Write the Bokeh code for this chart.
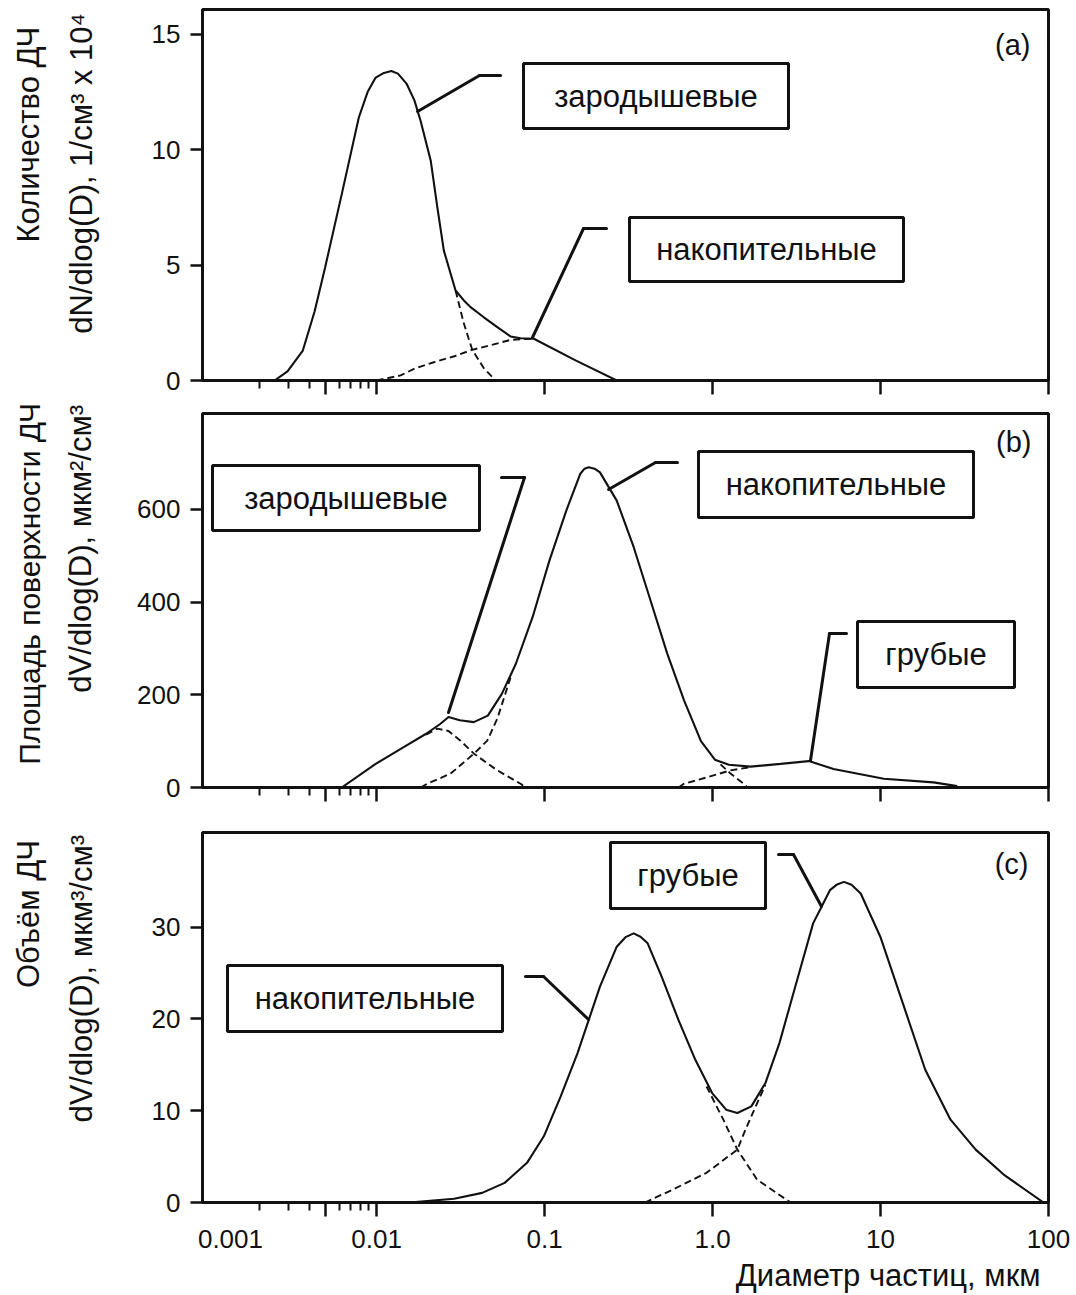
from bokeh.plotting import figure
from bokeh.layouts import column
from bokeh.models import (Range1d, FixedTicker, CustomJSTickFormatter, Label,
                          BoxAnnotation, Arrow, LinearAxis, LogAxis)
from bokeh.embed import file_html
from bokeh.resources import INLINE

# ---------------- data: particle diameter D (мкм) and size distributions ----------------
# (a) number distribution dN/dlog(D), 1/см³ x 10⁴
a_total_d = [0.00247, 0.00295, 0.00364, 0.00428, 0.00494, 0.00622, 0.00784, 0.00884,
             0.00988, 0.01106, 0.01225, 0.0134, 0.01507, 0.0168, 0.01826, 0.0210,
             0.02301, 0.02515, 0.02953, 0.03308, 0.03627, 0.04352, 0.05231, 0.06274,
             0.0720, 0.08636, 0.153, 0.269]
a_total_n = [0, 0.4, 1.3, 3.0, 4.9, 8.11, 11.4, 12.5, 13.13, 13.33, 13.41, 13.3, 12.87,
             12.14, 11.27, 9.54, 7.5, 5.63, 3.9, 3.47, 3.18, 2.74, 2.31, 1.91, 1.83,
             1.81, 0.87, 0]
a_nucl_d = [0.02953, 0.0330, 0.03712, 0.04334, 0.0511]
a_nucl_n = [3.9, 2.5, 1.33, 0.55, 0]
a_accu_d = [0.0100, 0.0139, 0.0169, 0.0219, 0.029, 0.0371, 0.046, 0.0557, 0.0627, 0.0720, 0.0864]
a_accu_n = [0, 0.22, 0.52, 0.79, 1.05, 1.33, 1.50, 1.66, 1.76, 1.79, 1.81]

# (b) surface distribution, мкм²/см³
b_total_d = [0.0062, 0.00988, 0.0145, 0.01973, 0.02391, 0.02683, 0.03128, 0.03791,
             0.04597, 0.05569, 0.06748, 0.08495, 0.1070, 0.1349, 0.1633, 0.1730, 0.1833,
             0.1984, 0.2137, 0.2690, 0.3391, 0.4270, 0.5376, 0.6768, 0.8532, 1.033,
             1.252, 1.683, 2.540, 3.743, 5.251, 10.46, 20.68, 28.61]
b_total_s = [0, 51, 87, 116, 137, 152, 145, 141, 155, 202, 267, 368, 490, 598, 677, 688,
             691, 688, 680, 619, 519, 404, 289, 188, 100, 60, 49, 45, 51, 57, 40, 19, 11, 3]
b_nucl_d = [0.0197, 0.0230, 0.0268, 0.0316, 0.0380, 0.0518, 0.0720, 0.0771]
b_nucl_s = [114, 127, 122, 101, 73, 38, 8, 0]
b_accu_d = [0.0183, 0.0200, 0.0276, 0.0380, 0.0456, 0.0525, 0.0627]
b_accu_s = [0, 8, 30, 73, 101, 150, 237]
b_accu_tail_d = [1.116, 1.28, 1.536, 1.615]
b_accu_tail_s = [50, 30, 8, 0]
b_coarse_d = [0.627, 0.675, 0.930, 1.28, 1.683]
b_coarse_s = [0, 8, 22, 37, 44]

# (c) volume distribution, мкм³/см³
c_total_d = [0.01565, 0.02897, 0.04251, 0.05788, 0.07865, 0.09904, 0.1248, 0.1572, 0.1833,
             0.2137, 0.2690, 0.3034, 0.3391, 0.3727, 0.4110, 0.4977, 0.6266, 0.7900,
             0.9945, 1.205, 1.405, 1.702, 2.064, 2.501, 3.149, 3.970, 4.998, 5.47, 6.055,
             6.72, 7.623, 9.973, 13.57, 18.46, 26.11, 36.87, 54.12, 93.4]
c_total_v = [0, 0.40, 1.05, 2.14, 4.32, 7.21, 11.55, 16.27, 19.89, 23.51, 27.86, 28.9,
             29.31, 28.95, 28.23, 24.60, 19.89, 15.54, 11.92, 10.11, 9.75, 10.47, 13.01,
             17.36, 23.88, 30.40, 34.02, 34.6, 34.92, 34.6, 33.66, 28.95, 21.71, 14.46,
             9.02, 5.76, 3.04, 0]
c_accu_tail_d = [0.921, 1.160, 1.405, 1.841, 2.912]
c_accu_tail_v = [12.64, 9.02, 5.76, 2.5, 0]
c_coarse_d = [0.3954, 0.5804, 0.921, 1.405, 1.576, 1.841, 2.064]
c_coarse_v = [0, 1.41, 3.23, 5.76, 8.0, 10.8, 12.8]

# axis ticks
x_major = [0.005, 0.01, 0.1, 1, 10, 100]
x_minor = [0.002, 0.003, 0.004, 0.006, 0.007, 0.008, 0.009]
x_label_ticks = [0.00135, 0.01, 0.1, 1, 10, 100]
a_yticks = [0, 5, 10, 15]
b_yticks = [0, 200, 400, 600]
c_yticks = [0, 10, 20, 30]

# ---------------- styling / layout ----------------
FONT = "Liberation Sans"
INK = "#111111"
PAGE_W = 1076
FRAME_L, FRAME_R = 202, 1048
X_MIN, X_MAX = 0.00092, 100
BOX_FONT = "31px"
TICK_FONT = "26px"
TITLE_FONT = "31px"
NBSP = "\u00a0"

BLANK = CustomJSTickFormatter(code='return "";')
X_LABELS = CustomJSTickFormatter(code="""
    if (tick < 0.002) { return "0.001"; }
    if (Math.abs(tick - 1) < 1e-9) { return "1.0"; }
    return tick.toString();
""")


def lead(text, n):
    """Axis titles are centred by Bokeh; leading non-breaking spaces slide them along."""
    return NBSP * n + text


def title_style(axis, text, standoff, size=TITLE_FONT):
    axis.axis_label = text
    axis.axis_label_standoff = standoff
    axis.axis_label_text_font = FONT
    axis.axis_label_text_font_size = size
    axis.axis_label_text_font_style = "normal"
    axis.axis_label_text_color = INK


def make_panel(height, top, bottom, ymax, yticks):
    p = figure(width=PAGE_W, height=height, x_axis_type="log",
               x_range=Range1d(X_MIN, X_MAX), y_range=Range1d(0, ymax),
               output_backend="svg", toolbar_location=None,
               min_border_left=FRAME_L, min_border_right=PAGE_W - FRAME_R,
               min_border_top=top, min_border_bottom=bottom)
    p.grid.visible = False
    p.background_fill_color = "white"
    p.border_fill_color = "white"
    p.outline_line_color = INK
    p.outline_line_width = 3

    xa = p.xaxis[0]
    xa.ticker = FixedTicker(ticks=x_major, minor_ticks=x_minor)
    xa.formatter = BLANK
    xa.major_label_standoff = 0
    xa.axis_line_width = 3
    xa.axis_line_color = INK
    xa.major_tick_in = 0
    xa.major_tick_out = 14
    xa.major_tick_line_width = 2.5
    xa.major_tick_line_color = INK
    xa.minor_tick_in = 0
    xa.minor_tick_out = 8
    xa.minor_tick_line_width = 2
    xa.minor_tick_line_color = INK

    ya = p.yaxis[0]
    ya.ticker = FixedTicker(ticks=yticks)
    ya.axis_line_width = 3
    ya.axis_line_color = INK
    ya.major_tick_in = 0
    ya.major_tick_out = 12
    ya.major_tick_line_width = 2.5
    ya.major_tick_line_color = INK
    ya.minor_tick_line_color = None
    ya.minor_tick_out = 0
    ya.major_label_text_font = FONT
    ya.major_label_text_font_size = TICK_FONT
    ya.major_label_text_color = INK
    ya.major_label_standoff = 10
    return p


def add_titles(p, inner, inner_standoff, outer, outer_standoff, outer_size=TITLE_FONT):
    title_style(p.yaxis[0], inner, inner_standoff)
    ax = LinearAxis(ticker=FixedTicker(ticks=[]), axis_line_color=None,
                    major_tick_in=0, major_tick_out=0, minor_tick_in=0, minor_tick_out=0,
                    major_label_standoff=0)
    title_style(ax, outer, outer_standoff, outer_size)
    p.add_layout(ax, "left")


def curve(p, xs, ys, dashed=False):
    if dashed:
        p.line(xs, ys, line_color=INK, line_width=1.9, line_dash="7 4")
    else:
        p.line(xs, ys, line_color=INK, line_width=2.1)


def text_at(p, fb, px, py, text, size, align="center", baseline="middle"):
    p.add_layout(Label(x=px - FRAME_L, y=fb - py, x_units="screen", y_units="screen",
                       text=text, text_align=align, text_baseline=baseline,
                       text_font=FONT, text_font_size=size, text_color=INK))


def boxed(p, fb, left, top, right, bottom, text):
    p.add_layout(BoxAnnotation(left=left - FRAME_L, right=right - FRAME_L,
                               top=fb - top, bottom=fb - bottom,
                               left_units="screen", right_units="screen",
                               top_units="screen", bottom_units="screen",
                               fill_color="white", fill_alpha=1.0,
                               line_color=INK, line_alpha=1.0, line_width=3))
    text_at(p, fb, (left + right) / 2, (top + bottom) / 2, text, BOX_FONT)


def leader(p, fb, pts):
    for (x0, y0), (x1, y1) in zip(pts[:-1], pts[1:]):
        p.add_layout(Arrow(end=None, x_start=x0 - FRAME_L, y_start=fb - y0,
                           x_end=x1 - FRAME_L, y_end=fb - y1,
                           start_units="screen", end_units="screen",
                           line_color=INK, line_width=3, line_cap="round"))


# ---------------- (a) number ----------------
FB_A = 380
pa = make_panel(396, 9, 16, 16.08, a_yticks)
curve(pa, a_nucl_d, a_nucl_n, dashed=True)
curve(pa, a_accu_d, a_accu_n, dashed=True)
curve(pa, a_total_d, a_total_n)
leader(pa, FB_A, [(417, 111), (479, 75), (500, 75)])
leader(pa, FB_A, [(532, 337), (583, 228), (606, 228)])
boxed(pa, FB_A, 523, 63, 788, 128, "зародышевые")
boxed(pa, FB_A, 629, 217, 903, 281, "накопительные")
text_at(pa, FB_A, 1030, 44, "(a)", "29px", align="right")
add_titles(pa, lead("dN/dlog(D), 1/см³ x 10⁴", 5), 50,
           lead("Количество ДЧ", 14), 15)

# ---------------- (b) surface ----------------
FB_B = 787
pb = make_panel(407, 17, 16, 807, b_yticks)
curve(pb, b_nucl_d, b_nucl_s, dashed=True)
curve(pb, b_accu_d, b_accu_s, dashed=True)
curve(pb, b_accu_tail_d, b_accu_tail_s, dashed=True)
curve(pb, b_coarse_d, b_coarse_s, dashed=True)
curve(pb, b_total_d, b_total_s)
leader(pb, FB_B, [(448, 712), (524, 477), (501, 477)])
leader(pb, FB_B, [(608, 489), (655, 462), (677, 462)])
leader(pb, FB_B, [(810, 760), (829, 633), (846, 633)])
boxed(pb, FB_B, 212, 465, 479, 530, "зародышевые")
boxed(pb, FB_B, 698, 451, 973, 517, "накопительные")
boxed(pb, FB_B, 857, 621, 1014, 687, "грубые")
text_at(pb, FB_B, 1031, 441, "(b)", "29px", align="right")
add_titles(pb, lead("dV/dlog(D), мкм²/см³", 12), 36,
           lead("Площадь поверхности ДЧ", 4), 15, outer_size="30px")

# ---------------- (c) volume ----------------
FB_C = 1203
pc = make_panel(492, 29, 92, 40.3, c_yticks)
curve(pc, c_accu_tail_d, c_accu_tail_v, dashed=True)
curve(pc, c_coarse_d, c_coarse_v, dashed=True)
curve(pc, c_total_d, c_total_v)
leader(pc, FB_C, [(525, 977), (543, 977), (588, 1020)])
leader(pc, FB_C, [(778, 855), (793, 855), (821, 907)])
boxed(pc, FB_C, 227, 966, 502, 1032, "накопительные")
boxed(pc, FB_C, 610, 843, 765, 909, "грубые")
text_at(pc, FB_C, 1028, 864, "(c)", "29px", align="right")
add_titles(pc, lead("dV/dlog(D), мкм³/см³", 9), 50, lead("Объём ДЧ", 24), 15)

# tick labels and title of the diameter axis sit on a second, tick-less axis
xl = LogAxis(ticker=FixedTicker(ticks=x_label_ticks), formatter=X_LABELS,
             axis_line_color=None, major_tick_in=0, major_tick_out=0,
             minor_tick_in=0, minor_tick_out=0, major_label_standoff=13,
             major_label_text_font=FONT, major_label_text_font_size=TICK_FONT,
             major_label_text_color=INK)
title_style(xl, lead("Диаметр частиц, мкм", 61), 7)
pc.add_layout(xl, "below")

layout = column(pa, pb, pc, spacing=0)
open("out.html", "w").write(file_html(layout, INLINE))
